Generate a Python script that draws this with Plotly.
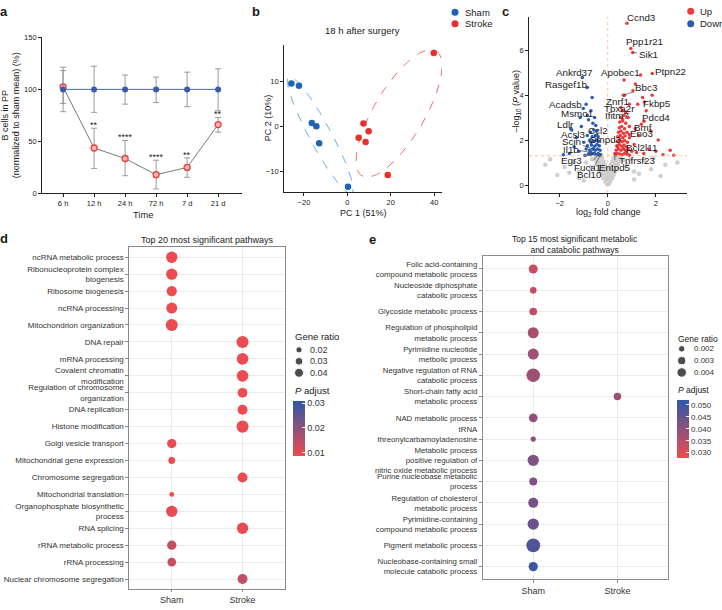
import numpy as np
import plotly.graph_objects as go

W, H = 722, 610
FONT = "Liberation Sans, Arial, sans-serif"
TXT = "#1a1a1a"


def px(x):
    return x / W


def py(y):
    return 1 - y / H


# ---------------- Panel a data ----------------
time_labels = ["6 h", "12 h", "24 h", "72 h", "7 d", "21 d"]
sham_mean = [100, 100, 100, 100, 100, 100]
sham_upper = [121.4, 122.3, 113.8, 111.9, 116.6, 119.8]
sham_lower = [78.5, 77.9, 85.8, 87.4, 83.3, 79.4]
stroke_mean = [102.3, 43.5, 33.4, 17.8, 24.8, 66.1]
stroke_upper = [118.2, 62.6, 50.8, 31.8, 34.0, 73.0]
stroke_lower = [86.4, 23.8, 16.8, 4.1, 15.3, 58.8]
significance = ["", "**", "****", "****", "**", "**"]

# ---------------- Panel b data ----------------
pca_groups = ["Sham", "Stroke"]
pca_sham_pc1 = [-25.8, -22.3, -16.4, -14.3, -13.0, 0.3]
pca_sham_pc2 = [9.5, 9.0, 0.7, 0.0, -3.8, -13.5]
pca_stroke_pc1 = [5.2, 7.4, 8.4, 9.8, 18.6, 39.8]
pca_stroke_pc2 = [-2.6, 0.6, -3.5, -1.1, -10.9, 16.3]
# ellipse: centre, half major-axis vector, half minor-axis vector (data units)
ellipse_sham = [(-12.5, -2.0), (14.5, -13.0), (-4.47, -1.14)]
ellipse_stroke = [(23.8, 2.86), (17.05, 13.96), (10.1, -2.81)]

# ---------------- Panel c data ----------------
volcano_groups = ["Up", "Down"]
p_cutoff = 0.05
grey_x = [-0.04, 0.04,
          -0.10, 0.00, 0.10,
          -0.18, -0.06, 0.06, 0.18,
          -0.25, -0.12, 0.00, 0.12, 0.25,
          -0.30, -0.18, -0.06, 0.06, 0.18, 0.30,
          -0.36, -0.22, -0.08, 0.08, 0.22, 0.36,
          -0.42, -0.28, -0.12, 0.12, 0.28, 0.42,
          -0.47, -0.33, -0.18, 0.18, 0.33, 0.47,
          -0.52, -0.38, -0.24, 0.24, 0.38, 0.52,
          -0.70, -0.90, -0.65, 0.65, 0.80, 0.95, -1.20, 1.10, -2.10, -1.60,
          -1.20, -2.60, -1.40, -1.80, 1.30, 1.80, 2.40, 1.50, 2.20, 2.90,
          1.10, -1.00, -2.40, 1.90]
grey_y = [0.05, 0.05,
          0.15, 0.15, 0.15,
          0.30, 0.30, 0.30, 0.30,
          0.45, 0.45, 0.45, 0.45, 0.45,
          0.60, 0.60, 0.60, 0.60, 0.60, 0.60,
          0.75, 0.75, 0.75, 0.75, 0.75, 0.75,
          0.90, 0.90, 0.90, 0.90, 0.90, 0.90,
          1.05, 1.05, 1.05, 1.05, 1.05, 1.05,
          1.20, 1.20, 1.20, 1.20, 1.20, 1.20,
          0.80, 1.00, 1.15, 1.10, 0.90, 1.15, 0.60, 0.60, 0.45, 0.55,
          0.30, 0.90, 1.00, 0.80, 0.50, 0.70, 0.90, 1.10, 0.40, 1.00,
          0.25, 0.20, 1.15, 1.20]
up_x = [0.32, 0.40, 0.50, 0.60, 0.70, 0.80, 0.90,
        0.35, 0.45, 0.55, 0.65, 0.75, 0.85,
        0.38, 0.48, 0.58, 0.68, 0.78, 1.00,
        0.40, 0.50, 0.60, 0.70, 0.82,
        0.42, 0.52, 0.62, 0.72, 0.90,
        0.45, 0.55, 0.65, 0.80,
        0.48, 0.58, 0.70, 0.90,
        0.50, 0.62, 0.75,
        0.55, 0.68, 0.85, 0.60,
        1.10, 1.20, 1.30, 1.50, 1.70, 2.00, 2.30, 2.60, 2.75, 1.40,
        1.60, 1.25, 1.05, 1.45, 1.85, 0.90, 0.70, 2.10, 1.80, 1.37, 1.15]
up_y = [1.35, 1.40, 1.38, 1.35, 1.40, 1.36, 1.33,
        1.55, 1.60, 1.55, 1.60, 1.52, 1.58,
        1.75, 1.80, 1.72, 1.78, 1.70, 1.50,
        1.95, 2.00, 1.92, 1.98, 1.90,
        2.15, 2.20, 2.10, 2.18, 2.10,
        2.35, 2.40, 2.30, 2.35,
        2.55, 2.60, 2.50, 2.60,
        2.80, 2.85, 2.75,
        3.00, 3.10, 3.00, 3.30,
        1.80, 1.45, 2.20, 1.40, 1.60, 1.50, 1.35, 1.55, 1.32, 2.70,
        3.30, 3.60, 4.20, 3.90, 4.00, 3.60, 4.00, 2.00, 2.40, 4.90, 4.50]
down_x = [-0.30, -0.40, -0.50, -0.60, -0.70, -0.80, -0.95,
          -0.32, -0.42, -0.52, -0.62, -0.75, -0.90,
          -0.35, -0.45, -0.55, -0.68, -0.85,
          -0.38, -0.48, -0.60, -0.75, -1.00,
          -0.40, -0.52, -0.65, -0.85,
          -0.45, -0.58, -0.72, -0.50, -0.62, -0.55,
          -1.20, -1.40, -1.60, -1.85, -1.30, -1.10, -1.50, -0.80, -0.90,
          -0.65, -1.15, -0.70]
down_y = [1.35, 1.40, 1.36, 1.40, 1.35, 1.38, 1.33,
          1.55, 1.60, 1.55, 1.60, 1.55, 1.60,
          1.75, 1.80, 1.72, 1.78, 1.75,
          1.95, 2.00, 1.95, 2.00, 1.90,
          2.15, 2.20, 2.15, 2.20,
          2.40, 2.45, 2.35, 2.65, 2.75, 3.00,
          1.50, 1.70, 1.40, 1.35, 2.10, 2.60, 2.45, 2.90, 3.60,
          3.90, 3.00, 3.30]
gene_names = ["Ccnd3", "Ppp1r21", "Sik1", "Ptpn22", "Apobec1", "Ankrd37", "Rasgef1b.",
              "Bbc3", "Znrf1", "Fkbp5", "Acadsb", "Tbxa2r", "Msmo1", "Ifitm7", "Pdcd4",
              "Ldlr", "Bmf", "Ccl2", "Eno3", "Acsl3", "Smpd3", "Scin", "Bcl2l11", "Il1b",
              "Egr3", "Tnfrsf23", "Fuca1", "Entpd5", "Bcl10"]
gene_fc = [0.80, 0.96, 1.04, 1.85, 0.68, -1.06, -0.86,
           0.65, 0.55, 1.53, -1.02, 0.75, -0.85, 0.62, 1.51,
           -1.54, 1.14, -0.45, 0.90, -0.70, 0.40, -0.60, 0.79, -0.70,
           -0.55, 0.65, -0.40, 0.30, -0.30]
gene_logp = [7.20, 6.08, 5.90, 4.96, 4.67, 4.78, 4.34,
             4.00, 3.45, 3.70, 3.41, 3.25, 3.09, 2.90, 2.84,
             2.50, 2.50, 2.20, 2.25, 1.90, 1.70, 1.60, 1.48, 1.45,
             1.40, 1.62, 1.35, 1.40, 1.35]
label_fc = [1.39, 1.55, 1.68, 2.60, 0.51, -1.39, -1.68,
            1.60, 0.40, 2.04, -1.74, 0.48, -1.29, 0.40, 2.01,
            -1.78, 1.48, -0.39, 1.42, -1.43, -0.07, -1.49, 1.42, -1.54,
            -1.50, 1.21, -0.85, 0.29, -0.74]
label_logp = [7.47, 6.39, 5.83, 5.06, 4.99, 5.02, 4.47,
              4.32, 3.73, 3.63, 3.57, 3.41, 3.19, 3.09, 3.01,
              2.71, 2.57, 2.41, 2.28, 2.24, 2.04, 1.92, 1.65, 1.60,
              1.10, 1.08, 0.79, 0.79, 0.46]

# ---------------- Panel d data ----------------
conditions = ["Sham", "Stroke"]
pathways_d = ["ncRNA metabolic process", "Ribonucleoprotein complex<br>biogenesis",
              "Ribosome biogenesis", "ncRNA processing", "Mitochondrion organization",
              "DNA repair", "mRNA processing", "Covalent chromatin<br>modification",
              "Regulation of chromosome<br>organization", "DNA replication",
              "Histone modification", "Golgi vesicle transport",
              "Mitochondrial gene expression", "Chromosome segregation",
              "Mitochondrial translation", "Organophosphate biosynthetic<br>process",
              "RNA splicing", "rRNA metabolic process", "rRNA processing",
              "Nuclear chromosome segregation"]
group_d = ["Sham", "Sham", "Sham", "Sham", "Sham",
           "Stroke", "Stroke", "Stroke", "Stroke", "Stroke", "Stroke",
           "Sham", "Sham", "Stroke", "Sham", "Sham", "Stroke", "Sham", "Sham", "Stroke"]
gene_ratio_d = [0.063, 0.063, 0.052, 0.059, 0.071, 0.071, 0.067, 0.067, 0.046, 0.049,
                0.071, 0.043, 0.023, 0.049, 0.012, 0.063, 0.063, 0.043, 0.037, 0.049]
p_adjust_d = [0.0092, 0.0092, 0.0092, 0.0092, 0.0095, 0.0092, 0.0092, 0.0092, 0.0093, 0.0093,
              0.0092, 0.0095, 0.0095, 0.0093, 0.0095, 0.0095, 0.0095, 0.0135, 0.0137, 0.0140]
ratio_breaks_d = [0.02, 0.03, 0.04]
padj_breaks_d = [0.01, 0.02, 0.03]

# ---------------- Panel e data ----------------
pathways_e = ["Folic acid-containing<br>compound metabolic process",
              "Nucleoside diphosphate<br>catabolic process",
              "Glycoside metabolic process",
              "Regulation of phospholipid<br>metabolic process",
              "Pyrimidine nucleotide<br>metbolic process",
              "Negative regulation of RNA<br>catabolic process",
              "Short-chain fatty acid<br>metabolic process",
              "NAD metabolic process",
              "tRNA<br>threonylcarbamoyladenosine<br> ",
              "Metabolic process<br>positive regulation of<br>nitric oxide metabolic process",
              "Purine nucleobase metabolic<br>process",
              "Regulation of cholesterol<br>metabolic process",
              "Pyrimidine-containing<br>compound metabolic process",
              "Pigment metabolic process",
              "Nucleobase-containing small<br>molecule catabolic process"]
group_e = ["Sham"] * 6 + ["Stroke"] + ["Sham"] * 8
gene_ratio_e = [0.0036, 0.0021, 0.0027, 0.0053, 0.0053, 0.0079, 0.0026, 0.0034,
                0.0014, 0.0056, 0.0029, 0.0044, 0.0056, 0.0083, 0.0038]
p_adjust_e = [0.0328, 0.0333, 0.0340, 0.0369, 0.0379, 0.0379, 0.0386, 0.0400,
              0.0408, 0.0420, 0.0420, 0.0430, 0.0447, 0.0480, 0.0505]
ratio_breaks_e = [0.002, 0.003, 0.004]
padj_breaks_e = [0.030, 0.035, 0.040, 0.045, 0.050]

RED = "#ef4b4f"
BLUE = "#2f57a8"
PSCALE = [[0, RED], [1, BLUE]]


def size_d(v):
    return np.sqrt(2065 * np.asarray(v) - 1.6)


def size_e(v):
    return np.sqrt(24000 * np.asarray(v) - 5.75)


fig = go.Figure()

# ======== Panel a ========
fig.add_trace(go.Scatter(
    x=time_labels, y=stroke_mean, mode="lines+markers", xaxis="x", yaxis="y",
    line=dict(color="#555555", width=0.8),
    marker=dict(size=6, color="#f7b5b5", line=dict(color="#e8403a", width=1.3)),
    error_y=dict(type="data", symmetric=False,
                 array=[u - m for u, m in zip(stroke_upper, stroke_mean)],
                 arrayminus=[m - l for m, l in zip(stroke_mean, stroke_lower)],
                 color="#8f8f8f", thickness=0.9, width=3),
    showlegend=False))
fig.add_trace(go.Scatter(
    x=time_labels, y=sham_mean, mode="lines+markers", xaxis="x", yaxis="y",
    line=dict(color="#5468aa", width=1),
    marker=dict(size=6, color="#3c5caa"),
    error_y=dict(type="data", symmetric=False,
                 array=[u - m for u, m in zip(sham_upper, sham_mean)],
                 arrayminus=[m - l for m, l in zip(sham_mean, sham_lower)],
                 color="#8f8f8f", thickness=0.9, width=3),
    showlegend=False))

annotations = []
for t, s, u in zip(time_labels, significance, stroke_upper):
    if s:
        annotations.append(dict(x=t, y=u, xref="x", yref="y", text=s, showarrow=False,
                                yanchor="middle", yshift=3, font=dict(size=9, color=TXT)))

# ======== Panel b ========
tt = np.linspace(0, 2 * np.pi, 200)
for ell, col in [(ellipse_sham, "#6aaee0"), (ellipse_stroke, "#f07070")]:
    (cx, cy), (ux, uy), (vx, vy) = ell
    fig.add_trace(go.Scatter(
        x=cx + ux * np.cos(tt) + vx * np.sin(tt), y=cy + uy * np.cos(tt) + vy * np.sin(tt),
        mode="lines", line=dict(color=col, width=1, dash="dash"),
        xaxis="x2", yaxis="y2", showlegend=False, hoverinfo="skip"))
fig.add_trace(go.Scatter(x=pca_sham_pc1, y=pca_sham_pc2, mode="markers", xaxis="x2", yaxis="y2",
                         marker=dict(size=6.5, color="#1f63b5"), showlegend=False))
fig.add_trace(go.Scatter(x=pca_stroke_pc1, y=pca_stroke_pc2, mode="markers", xaxis="x2", yaxis="y2",
                         marker=dict(size=6.5, color="#e8302a"), showlegend=False))

# legend for b (hidden axes x6/y6, x in pixel-like units)
fig.add_trace(go.Scatter(x=[5, 5], y=pca_groups, mode="markers", xaxis="x6", yaxis="y6",
                         marker=dict(size=7, color=["#1f63b5", "#e8302a"]), showlegend=False))
for g in pca_groups:
    annotations.append(dict(x=12.7, y=g, xref="x6", yref="y6", text=g, showarrow=False,
                            xanchor="left", font=dict(size=9.5, color=TXT)))

# ======== Panel c ========
fig.add_trace(go.Scatter(x=grey_x, y=grey_y, mode="markers", xaxis="x3", yaxis="y3",
                         marker=dict(size=4.5, color="#cfcfcf"), showlegend=False))
fig.add_trace(go.Scatter(x=up_x, y=up_y, mode="markers", xaxis="x3", yaxis="y3",
                         marker=dict(size=3.5, color="#ef3b3b"), showlegend=False))
fig.add_trace(go.Scatter(x=down_x, y=down_y, mode="markers", xaxis="x3", yaxis="y3",
                         marker=dict(size=3.5, color="#2a5bb2"), showlegend=False))
fig.add_trace(go.Scatter(x=gene_fc, y=gene_logp, mode="markers", xaxis="x3", yaxis="y3",
                         marker=dict(size=3.5, color=["#ef3b3b" if v > 0 else "#2a5bb2" for v in gene_fc]),
                         showlegend=False))
for n, gx, gy, lx, ly in zip(gene_names, gene_fc, gene_logp, label_fc, label_logp):
    annotations.append(dict(x=gx, y=gy, xref="x3", yref="y3", ax=lx, ay=ly, axref="x3", ayref="y3",
                            text=n, showarrow=True, arrowhead=0, arrowwidth=0.6, arrowcolor="#333333",
                            standoff=0, font=dict(size=9.8, color=TXT)))
thr = -np.log10(p_cutoff)
shapes = [
    dict(type="line", xref="x3", yref="y3", x0=-3.28, x1=3.30, y0=thr, y1=thr,
         line=dict(color="#f5b27a", width=0.8, dash="dot")),
    dict(type="line", xref="x3", yref="y3", x0=0, x1=0, y0=-0.35, y1=7.5,
         line=dict(color="#f5b27a", width=0.8, dash="dot")),
]
# legend for c (hidden axes x7/y7)
fig.add_trace(go.Scatter(x=[5, 5], y=volcano_groups, mode="markers", xaxis="x7", yaxis="y7",
                         marker=dict(size=7, color=["#ef3b3b", "#2a5bb2"]), showlegend=False))
for g in volcano_groups:
    annotations.append(dict(x=12, y=g, xref="x7", yref="y7", text=g, showarrow=False,
                            xanchor="left", font=dict(size=9.5, color=TXT)))

# ======== Panel d ========
fig.add_trace(go.Scatter(
    x=group_d, y=pathways_d, mode="markers", xaxis="x4", yaxis="y4",
    marker=dict(size=size_d(gene_ratio_d), color=p_adjust_d, colorscale=PSCALE,
                cmin=0.0088, cmax=0.031, opacity=1, line=dict(width=0),
                showscale=True,
                colorbar=dict(x=px(293.3), xanchor="left", y=py(430.5), yanchor="middle",
                              len=55, lenmode="pixels", thickness=11.5, thicknessmode="pixels",
                              xpad=0, ypad=0, outlinewidth=0, tickvals=padj_breaks_d,
                              ticktext=[f"{v:.2f}" for v in padj_breaks_d],
                              ticks="inside", tickcolor="white", ticklen=3,
                              tickfont=dict(size=9, color="#333333"))),
    showlegend=False))
fig.add_trace(go.Scatter(x=[5, 5, 5], y=ratio_breaks_d, mode="markers", xaxis="x8", yaxis="y8",
                         marker=dict(size=size_d(ratio_breaks_d), color="black"), showlegend=False))
for v in ratio_breaks_d:
    annotations.append(dict(x=14, y=v, xref="x8", yref="y8", text=f"{v:.2f}", showarrow=False,
                            xanchor="left", font=dict(size=9, color="#333333")))

# ======== Panel e ========
fig.add_trace(go.Scatter(
    x=group_e, y=pathways_e, mode="markers", xaxis="x5", yaxis="y5",
    marker=dict(size=size_e(gene_ratio_e), color=p_adjust_e, colorscale=PSCALE,
                cmin=0.0279, cmax=0.0522, opacity=1, line=dict(width=0),
                showscale=True,
                colorbar=dict(x=px(676.7), xanchor="left", y=py(431), yanchor="middle",
                              len=58, lenmode="pixels", thickness=11.5, thicknessmode="pixels",
                              xpad=0, ypad=0, outlinewidth=0, tickvals=padj_breaks_e,
                              ticktext=[f"{v:.3f}" for v in padj_breaks_e],
                              ticks="inside", tickcolor="white", ticklen=3,
                              tickfont=dict(size=8, color="#333333"))),
    showlegend=False))
fig.add_trace(go.Scatter(x=[5, 5, 5], y=ratio_breaks_e, mode="markers", xaxis="x9", yaxis="y9",
                         marker=dict(size=size_e(ratio_breaks_e), color="black"), showlegend=False))
for v in ratio_breaks_e:
    annotations.append(dict(x=15.6, y=v, xref="x9", yref="y9", text=f"{v:.3f}", showarrow=False,
                            xanchor="left", font=dict(size=8, color="#333333")))


# ======== text annotations (paper) ========
def pa(x, y, text, size=9, xanchor="center", yanchor="middle", angle=0, color=TXT):
    annotations.append(dict(x=px(x), y=py(y), xref="paper", yref="paper", text=text, showarrow=False,
                            xanchor=xanchor, yanchor=yanchor, textangle=angle,
                            font=dict(size=size, color=color)))


pa(4, 8, "<b>a</b>", 13)
pa(256, 8, "<b>b</b>", 13)
pa(505, 8, "<b>c</b>", 13)
pa(4, 238, "<b>d</b>", 13)
pa(372, 239, "<b>e</b>", 13)
pa(11, 113, "B cells in PP<br>(normalized to sham mean) (%)", 9, angle=-90)
pa(143, 214, "Time", 9.3)
pa(362, 27, "18 h after surgery", 9.5)
pa(268, 116, "PC 2 (10%)", 9, angle=-90)
pa(363, 212, "PC 1 (51%)", 9)
pa(517, 99, "\u2013log<sub>10</sub> (<i>P</i> value)", 9, angle=-90)
pa(608, 212, "log<sub>2</sub> fold change", 9)
pa(207, 240, "Top 20 most significant pathways", 9)
pa(575, 244, "Top 15 most significant metabolic<br>and catabolic pathways", 8.5)
pa(293, 337, "Gene ratio", 9.5, xanchor="left")
pa(293, 392, "<i>P</i> adjust", 9.5, xanchor="left")
pa(676, 340, "Gene ratio", 8.5, xanchor="left")
pa(676, 391.7, "<i>P</i> adjust", 8.5, xanchor="left")

AX = dict(showline=True, linecolor="#222222", linewidth=0.8, ticks="outside", ticklen=3,
          tickcolor="#222222", tickwidth=0.8, showgrid=False, zeroline=False,
          tickfont=dict(size=7.5, color=TXT))
BOX = dict(showline=True, mirror=True, linecolor="#8a8a8a", linewidth=0.8, ticks="outside", ticklen=3,
           tickcolor="#8a8a8a", tickwidth=0.8, showgrid=True, gridcolor="#ebebeb", gridwidth=0.8,
           zeroline=False)
HID = dict(visible=False, showgrid=False, zeroline=False, fixedrange=True)

fig.update_layout(
    width=W, height=H, margin=dict(l=0, r=0, t=0, b=0),
    paper_bgcolor="white", plot_bgcolor="rgba(0,0,0,0)",
    font=dict(family=FONT, color=TXT), showlegend=False,
    xaxis=dict(AX, domain=[px(42), px(242)], type="category", range=[-0.68, 5.77], anchor="y"),
    yaxis=dict(AX, domain=[py(192), py(34)], range=[0, 150], tickvals=[0, 50, 100, 150], anchor="x"),
    xaxis2=dict(AX, domain=[px(284), px(442)], range=[-29.2, 43.6], tickvals=[-20, 0, 20, 40], anchor="y2"),
    yaxis2=dict(AX, domain=[py(191), py(42)], range=[-14.7, 18.0], tickvals=[-10, 0, 10], anchor="x2"),
    xaxis3=dict(AX, domain=[px(529), px(687)], range=[-3.28, 3.30], tickvals=[-2, 0, 2], anchor="y3"),
    yaxis3=dict(AX, domain=[py(191.7), py(12.7)], range=[-0.35, 7.5], tickvals=[0, 2, 4, 6], anchor="x3"),
    xaxis4=dict(BOX, domain=[px(129.3), px(285)], type="category", categoryorder="array",
                categoryarray=conditions, range=[-0.6, 1.6], anchor="y4", ticklen=2,
                tickfont=dict(size=9, color="#333333")),
    yaxis4=dict(BOX, domain=[py(594), py(246.7)], type="category", categoryorder="array",
                categoryarray=pathways_d, range=[len(pathways_d) - 0.4, -0.6], anchor="x4",
                tickfont=dict(size=8, color="#333333")),
    xaxis5=dict(BOX, domain=[px(482.7), px(668)], type="category", categoryorder="array",
                categoryarray=conditions, range=[-0.6, 1.6], anchor="y5",
                tickfont=dict(size=9, color="#333333")),
    yaxis5=dict(BOX, domain=[py(584), py(256)], type="category", categoryorder="array",
                categoryarray=pathways_e, range=[len(pathways_e) - 0.4, -0.6], anchor="x5",
                tickfont=dict(size=7.8, color="#333333")),
    xaxis6=dict(HID, domain=[px(450), px(500)], range=[0, 50], anchor="y6"),
    yaxis6=dict(HID, domain=[py(25.85), py(2.45)], type="category", categoryorder="array",
                categoryarray=pca_groups, range=[1.5, -0.5], anchor="x6"),
    xaxis7=dict(HID, domain=[px(685.7), px(721)], range=[0, 35.3], anchor="y7"),
    yaxis7=dict(HID, domain=[py(26.35), py(0.95)], type="category", categoryorder="array",
                categoryarray=volcano_groups, range=[1.5, -0.5], anchor="x7"),
    xaxis8=dict(HID, domain=[px(294), px(330)], range=[0, 36], anchor="y8"),
    yaxis8=dict(HID, domain=[py(380.1), py(345.2)], range=[0.045, 0.015], anchor="x8"),
    xaxis9=dict(HID, domain=[px(676.7), px(721)], range=[0, 44.3], anchor="y9"),
    yaxis9=dict(HID, domain=[py(380), py(344)], range=[0.0045, 0.0015], anchor="x9"),
    annotations=annotations, shapes=shapes,
)

fig.write_html("out.html", config={"displayModeBar": False},
               post_script="document.body.style.margin='0px';document.body.style.overflow='hidden';")
